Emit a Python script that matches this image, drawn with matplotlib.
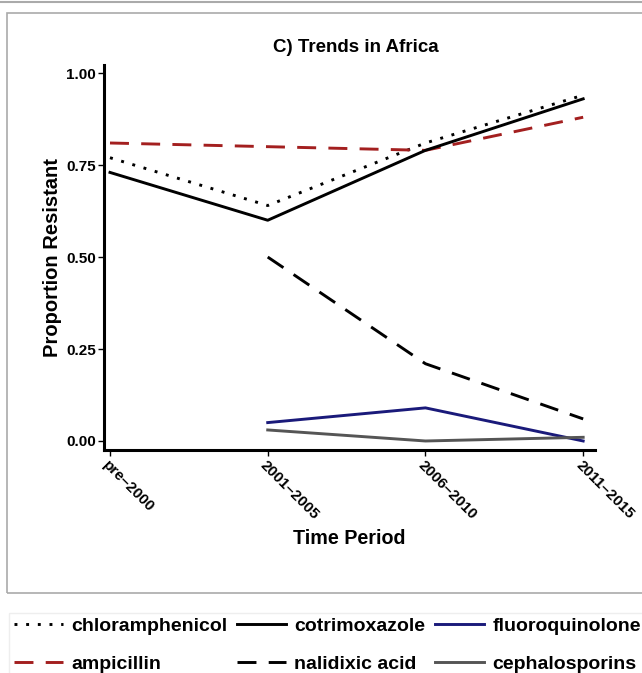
import numpy as np
import matplotlib
matplotlib.use("Agg")
import matplotlib.pyplot as plt
from matplotlib.patches import Rectangle
from matplotlib.lines import Line2D

plt.rcParams['font.family'] = ['Liberation Sans', 'DejaVu Sans']

periods = ["pre–2000", "2001–2005", "2006–2010", "2011–2015"]
chloramphenicol = [0.77, 0.64, 0.81, 0.94]
cotrimoxazole = [0.73, 0.60, 0.79, 0.93]
ampicillin = [0.81, 0.80, 0.79, 0.88]
nalidixic_acid = [np.nan, 0.50, 0.21, 0.06]
fluoroquinolone = [np.nan, 0.05, 0.09, 0.00]
cephalosporins = [np.nan, 0.03, 0.00, 0.01]
yticks = [0.00, 0.25, 0.50, 0.75, 1.00]

fig = plt.figure(figsize=(6.42, 6.73), dpi=100)
W, H = 642, 673

# outer frames
fig.add_artist(Line2D([0, 1], [1 - 1.5 / H, 1 - 1.5 / H], color='#aaaaaa', lw=1.5, transform=fig.transFigure))
fig.add_artist(Rectangle((7 / W, 1 - 593 / H), (660 - 7) / W, (593 - 13) / H,
                         transform=fig.transFigure, fill=False, ec='#aaaaaa', lw=1.2))
fig.add_artist(Rectangle((9 / W, 1 - 690 / H), (660 - 9) / W, (690 - 613) / H,
                         transform=fig.transFigure, fill=False, ec='#eeeeee', lw=1.0))

ax_l, ax_r, ax_t, ax_b = 104, 595, 65, 450
ax = fig.add_axes([ax_l / W, 1 - ax_b / H, (ax_r - ax_l) / W, (ax_b - ax_t) / H])
x = np.arange(len(periods))
lw = 2.1
dot = (0, (1, 3.0))
dash = (0, (6.5, 4.2))
ax.plot(x, chloramphenicol, color='black', lw=lw, linestyle=dot, label='chloramphenicol')
ax.plot(x, ampicillin, color='#a31f1f', lw=lw, linestyle=dash, label='ampicillin')
ax.plot(x, cotrimoxazole, color='black', lw=lw, linestyle='-', label='cotrimoxazole')
ax.plot(x, nalidixic_acid, color='black', lw=lw, linestyle=dash, label='nalidixic acid')
ax.plot(x, fluoroquinolone, color='#1a1a7a', lw=lw, linestyle='-', label='fluoroquinolone')
ax.plot(x, cephalosporins, color='#555555', lw=lw, linestyle='-', label='cephalosporins')

ax.set_xlim(-0.038, 3.075)
ax.set_ylim(-0.0245, 1.022)
ax.set_xticks(x)
ax.set_xticklabels(periods, rotation=-45, ha='left', va='top', rotation_mode='anchor',
                   fontsize=11, fontweight='bold')
ax.set_yticks(yticks)
ax.set_yticklabels([f"{v:.2f}" for v in yticks], fontsize=11, fontweight='bold')
for s in ['top', 'right']:
    ax.spines[s].set_visible(False)
for s in ['left', 'bottom']:
    ax.spines[s].set_linewidth(2.2)
ax.tick_params(axis='both', length=4, width=1, color='black', pad=2)
aw = ax_r - ax_l
ah = ax_b - ax_t
ax.set_xlabel("Time Period", fontsize=14.2, fontweight='bold')
ax.set_ylabel("Proportion Resistant", fontsize=14.5, fontweight='bold')
ax.xaxis.set_label_coords((349 - ax_l) / aw, (ax_b - 529) / ah)
ax.yaxis.set_label_coords((62 - ax_l) / aw, 0.5)
fig.text(356 / W, 1 - 47 / H, "C) Trends in Africa", fontsize=13.5, fontweight='bold',
         ha='center', va='center')

handles, labels = ax.get_legend_handles_labels()
order = ['chloramphenicol', 'ampicillin', 'cotrimoxazole', 'nalidixic acid', 'fluoroquinolone', 'cephalosporins']
hmap = dict(zip(labels, handles))
leg = fig.legend([hmap[o] for o in order], order, loc='lower left', bbox_to_anchor=(10 / W, -4 / H),
                 ncol=3, frameon=False, prop={'weight': 'bold', 'size': 14},
                 handlelength=2.5, columnspacing=0.5, handletextpad=0.45, labelspacing=1.05,
                 borderaxespad=0.0, borderpad=0.2)

fig.savefig("out.png", dpi=100)
